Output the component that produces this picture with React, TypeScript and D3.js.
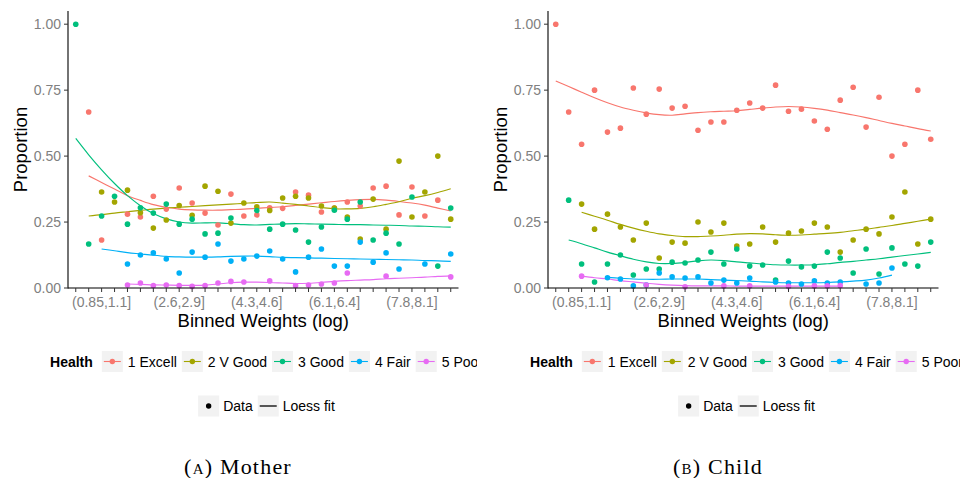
import React from "react";
import * as d3 from "d3";

const N = null;

const categories = [
  "(0.27,0.56]", "(0.56,0.85]", "(0.85,1.1]", "(1.1,1.4]", "(1.4,1.7]", "(1.7,2]",
  "(2,2.3]", "(2.3,2.6]", "(2.6,2.9]", "(2.9,3.2]", "(3.2,3.5]", "(3.5,3.8]",
  "(3.8,4]", "(4,4.3]", "(4.3,4.6]", "(4.6,4.9]", "(4.9,5.2]", "(5.2,5.5]",
  "(5.5,5.8]", "(5.8,6.1]", "(6.1,6.4]", "(6.4,6.7]", "(6.7,7]", "(7,7.2]",
  "(7.2,7.5]", "(7.5,7.8]", "(7.8,8.1]", "(8.1,8.4]", "(8.4,8.7]", "(8.7,9]",
];
const labelledCategories = ["(0.85,1.1]", "(2.6,2.9]", "(4.3,4.6]", "(6.1,6.4]", "(7.8,8.1]"];
const healthLevels = ["1 Excell", "2 V Good", "3 Good", "4 Fair", "5 Poor"];
const healthColors = ["#F8766D", "#A3A500", "#00BF7D", "#00B0F6", "#E76BF3"];
const yTicks = [0, 0.25, 0.5, 0.75, 1];
const yTickLabels = ["0.00", "0.25", "0.50", "0.75", "1.00"];

// Mother: observed proportions per bin
const motherExcell = [N, 0.667, 0.182, N, 0.280, 0.269, 0.348, 0.299, 0.379, 0.322, 0.284, 0.239, 0.356, 0.273, 0.277, 0.304, 0.302, 0.364, 0.352, 0.288, 0.303, 0.326, 0.311, 0.379, 0.386, 0.277, 0.383, 0.273, 0.333, N];
const motherVGood = [N, N, 0.364, 0.326, 0.371, 0.285, 0.227, 0.258, 0.313, 0.276, 0.386, 0.367, 0.246, 0.322, 0.308, 0.294, 0.341, 0.348, 0.341, 0.311, 0.303, 0.269, 0.186, 0.337, 0.223, 0.481, 0.269, 0.364, 0.500, 0.261];
const motherGood = [1.0, 0.167, 0.273, 0.348, 0.242, 0.304, 0.284, 0.318, 0.242, 0.261, 0.205, 0.208, 0.265, N, 0.294, 0.223, 0.242, 0.220, 0.174, 0.231, 0.295, 0.261, 0.326, 0.182, 0.208, 0.167, 0.345, N, 0.083, 0.303];
const motherFair = [N, N, N, N, 0.091, 0.125, 0.133, 0.110, 0.057, 0.136, 0.117, 0.167, 0.102, 0.110, 0.121, 0.140, 0.110, 0.061, 0.117, 0.148, 0.083, 0.083, 0.174, 0.098, 0.133, 0.072, N, 0.091, N, 0.129];
const motherPoor = [N, N, N, N, 0.011, 0.019, 0.009, 0.011, 0.009, 0.006, 0.009, 0.019, 0.025, 0.023, N, 0.027, N, 0.009, 0.011, 0.015, 0.019, 0.057, N, N, 0.045, N, N, N, N, 0.042];

// Mother: loess fit
const motherFitExcell = [N, 0.425, 0.400, 0.375, 0.350, 0.332, 0.316, 0.306, 0.299, 0.296, 0.295, 0.295, 0.297, 0.299, 0.302, 0.305, 0.308, 0.313, 0.318, 0.323, 0.328, 0.332, 0.335, 0.336, 0.333, 0.328, 0.322, 0.314, 0.303, 0.292];
const motherFitVGood = [N, 0.273, 0.278, 0.284, 0.289, 0.294, 0.299, 0.303, 0.306, 0.309, 0.312, 0.315, 0.318, 0.321, 0.324, 0.326, 0.322, 0.317, 0.311, 0.305, 0.300, 0.300, 0.302, 0.308, 0.317, 0.327, 0.340, 0.350, 0.362, 0.376];
const motherFitGood = [0.567, 0.505, 0.448, 0.396, 0.350, 0.312, 0.282, 0.262, 0.250, 0.246, 0.247, 0.247, 0.244, 0.240, 0.239, 0.241, 0.243, 0.244, 0.243, 0.242, 0.241, 0.240, 0.240, 0.239, 0.238, 0.237, 0.235, 0.234, 0.232, 0.231];
const motherFitFair = [N, N, 0.148, 0.141, 0.134, 0.129, 0.124, 0.120, 0.118, 0.117, 0.117, 0.118, 0.120, 0.121, 0.121, 0.119, 0.116, 0.115, 0.114, 0.113, 0.112, 0.111, 0.110, 0.109, 0.108, 0.107, 0.106, 0.104, 0.103, 0.101];
const motherFitPoor = [N, N, N, N, 0.015, 0.014, 0.012, 0.011, 0.010, 0.010, 0.011, 0.015, 0.020, 0.022, 0.022, 0.021, 0.019, 0.017, 0.018, 0.021, 0.025, 0.028, 0.030, 0.032, 0.035, 0.037, 0.039, 0.041, 0.044, 0.046];

// Child: observed proportions per bin
const childExcell = [1.0, 0.667, 0.545, 0.750, 0.591, 0.606, 0.758, 0.659, 0.754, 0.682, 0.689, 0.598, 0.629, 0.629, 0.674, 0.701, 0.682, 0.769, 0.670, 0.678, 0.633, 0.602, 0.712, 0.761, 0.610, 0.723, 0.500, 0.545, 0.750, 0.564];
const childVGood = [N, N, 0.318, 0.223, 0.280, 0.231, 0.182, 0.246, 0.114, 0.174, 0.170, 0.250, 0.212, 0.246, 0.159, 0.167, 0.231, 0.174, 0.208, 0.216, 0.246, 0.231, 0.136, 0.182, 0.223, 0.205, 0.269, 0.364, 0.167, 0.261];
const childGood = [N, 0.333, 0.091, 0.023, 0.091, 0.125, 0.049, 0.072, 0.072, 0.098, 0.095, 0.106, 0.136, 0.091, 0.148, 0.083, 0.087, 0.030, 0.102, 0.080, 0.083, 0.136, 0.114, 0.057, 0.148, 0.053, 0.152, 0.091, 0.083, 0.174];
const childFair = [N, N, N, N, 0.039, 0.034, 0.008, 0.011, 0.057, 0.042, 0.038, 0.042, 0.019, 0.030, 0.019, 0.038, N, 0.023, 0.019, 0.015, 0.027, 0.019, 0.023, N, 0.015, 0.019, 0.076, N, N, N];
const childPoor = [N, N, 0.045, N, N, N, N, 0.011, N, N, 0.005, N, N, 0.008, N, 0.008, N, N, 0.006, N, 0.008, 0.008, 0.009, N, N, N, N, N, N, N];

// Child: loess fit
const childFitExcell = [0.785, 0.764, 0.742, 0.721, 0.702, 0.686, 0.674, 0.664, 0.657, 0.655, 0.660, 0.665, 0.668, 0.670, 0.672, 0.677, 0.682, 0.686, 0.688, 0.686, 0.681, 0.674, 0.665, 0.656, 0.646, 0.635, 0.624, 0.614, 0.604, 0.595];
const childFitVGood = [N, N, 0.287, 0.272, 0.257, 0.241, 0.227, 0.215, 0.205, 0.199, 0.195, 0.195, 0.197, 0.200, 0.204, 0.206, 0.205, 0.202, 0.200, 0.201, 0.204, 0.207, 0.211, 0.217, 0.223, 0.230, 0.237, 0.245, 0.253, 0.261];
const childFitGood = [N, 0.182, 0.168, 0.152, 0.136, 0.122, 0.109, 0.099, 0.093, 0.093, 0.097, 0.103, 0.106, 0.104, 0.099, 0.095, 0.091, 0.088, 0.087, 0.087, 0.088, 0.092, 0.097, 0.101, 0.106, 0.111, 0.117, 0.123, 0.129, 0.135];
const childFitFair = [N, N, N, N, 0.040, 0.037, 0.034, 0.033, 0.033, 0.034, 0.034, 0.034, 0.032, 0.030, 0.028, 0.026, 0.023, 0.021, 0.020, 0.020, 0.020, 0.021, 0.023, 0.026, 0.030, 0.038, 0.049, N, N, N];
const childFitPoor = [N, N, 0.045, 0.039, 0.034, 0.028, 0.023, 0.018, 0.014, 0.011, 0.009, 0.008, 0.008, 0.008, 0.007, 0.007, 0.007, 0.007, 0.007, 0.007, 0.007, 0.007, 0.007, N, N, N, N, N, N, N];

const dataLegend = ["Data", "Loess fit"];

const SANS = "'Liberation Sans', Arial, Helvetica, sans-serif";
const SERIF = "'Liberation Serif', 'Times New Roman', serif";

let _ctx: CanvasRenderingContext2D | null = null;
function measure(text: string, font: string): number {
  if (!_ctx) {
    const c = document.createElement("canvas");
    _ctx = c.getContext("2d");
  }
  if (!_ctx) return text.length * 7;
  _ctx.font = font;
  return _ctx.measureText(text).width;
}

type PanelProps = {
  dx: number;
  width: number;
  series: (number | null)[][];
  fits: (number | null)[][];
  captionTag: string;
  captionText: string;
  clipId: string;
};

function Panel({ dx, width, series, fits, captionTag, captionText, clipId }: PanelProps) {
  const left = 68;
  const right = 458.5;
  const top = 11;
  const bottom = 288;
  const x = d3.scalePoint<string>().domain(categories).range([left, right]).padding(0.6);
  const y = d3.scaleLinear().domain([0, 1.05]).range([bottom, top]);
  const line = d3
    .line<number | null>()
    .defined((d) => d != null)
    .x((_, i) => x(categories[i]) as number)
    .y((d) => y(d as number))
    .curve(d3.curveCatmullRom.alpha(0.5));

  const legendFont = `14px ${SANS}`;
  const titleFont = `bold 14px ${SANS}`;
  const legendCx = 266.5;
  const keyW = 21;

  const titleW = measure("Health", titleFont);
  const itemWs = healthLevels.map((h) => measure(h, legendFont));
  const total1 = titleW + 9 + itemWs.reduce((a, w) => a + keyW + 5 + w, 0) + 5 * (healthLevels.length - 1);
  let cur = legendCx - total1 / 2;
  const titleX = cur;
  cur += titleW + 9;
  const items1 = healthLevels.map((h, i) => {
    const kx = cur;
    cur += keyW + 5 + itemWs[i] + 5;
    return { h, i, kx };
  });

  const dWs = dataLegend.map((t) => measure(t, legendFont));
  const total2 = dWs.reduce((a, w) => a + keyW + 4 + w, 0) + 5;
  let cur2 = legendCx - total2 / 2;
  const items2 = dataLegend.map((t, i) => {
    const kx = cur2;
    cur2 += keyW + 4 + dWs[i] + 5;
    return { t, i, kx };
  });

  const ly1 = 361.5;
  const ly2 = 406;

  return (
    <g>
      <defs>
        <clipPath id={clipId}>
          <rect x={dx} y={0} width={width} height={478} />
        </clipPath>
      </defs>
      <g clipPath={`url(#${clipId})`}>
        <g transform={`translate(${dx},0)`}>
          {fits.map((f, gi) => (
            <path key={`f${gi}`} d={line(f) || ""} fill="none" stroke={healthColors[gi]} strokeWidth={1.15} />
          ))}
          {series.map((s, gi) =>
            s.map((v, i) =>
              v == null ? null : (
                <circle key={`p${gi}-${i}`} cx={x(categories[i])} cy={y(v)} r={2.8} fill={healthColors[gi]} />
              )
            )
          )}
          <line x1={left} x2={left} y1={top} y2={bottom + 0.5} stroke="#000" strokeWidth={1.1} />
          <line x1={left} x2={right} y1={bottom} y2={bottom} stroke="#000" strokeWidth={1.1} />
          {yTicks.map((t, i) => (
            <g key={`yt${i}`}>
              <line x1={left - 4} x2={left} y1={y(t)} y2={y(t)} stroke="#333" strokeWidth={1} />
              <text x={left - 7} y={y(t)} dy="0.36em" textAnchor="end" fontFamily={SANS} fontSize={14} fill="#808080">
                {yTickLabels[i]}
              </text>
            </g>
          ))}
          {categories.map((c) => (
            <line key={`xt${c}`} x1={x(c)} x2={x(c)} y1={bottom} y2={bottom + 4} stroke="#333" strokeWidth={1} />
          ))}
          {labelledCategories.map((c) => (
            <text key={`xl${c}`} x={x(c)} y={307} textAnchor="middle" fontFamily={SANS} fontSize={14} fill="#808080">
              {c}
            </text>
          ))}
          <text x={(left + right) / 2} y={327} textAnchor="middle" fontFamily={SANS} fontSize={18.5} fill="#000">
            Binned Weights (log)
          </text>
          <text
            transform={`translate(27,${(top + bottom) / 2}) rotate(-90)`}
            textAnchor="middle"
            fontFamily={SANS}
            fontSize={18.5}
            fill="#000"
          >
            Proportion
          </text>

          <text x={titleX} y={ly1} dy="0.36em" fontFamily={SANS} fontSize={14} fontWeight="bold" fill="#000">
            Health
          </text>
          {items1.map(({ h, i, kx }) => (
            <g key={`l1${i}`}>
              <rect x={kx} y={ly1 - 10.5} width={keyW} height={21} fill="#F2F2F2" />
              <line x1={kx + 2} x2={kx + keyW - 2} y1={ly1} y2={ly1} stroke={healthColors[i]} strokeWidth={1.1} />
              <circle cx={kx + keyW / 2} cy={ly1} r={2.7} fill={healthColors[i]} />
              <text x={kx + keyW + 5} y={ly1} dy="0.36em" fontFamily={SANS} fontSize={14} fill="#000">
                {h}
              </text>
            </g>
          ))}

          {items2.map(({ t, i, kx }) => (
            <g key={`l2${i}`}>
              <rect x={kx} y={ly2 - 10.5} width={keyW} height={21} fill="#F2F2F2" />
              {i === 0 ? (
                <circle cx={kx + keyW / 2} cy={ly2} r={2.7} fill="#000" />
              ) : (
                <line x1={kx + 2} x2={kx + keyW - 2} y1={ly2} y2={ly2} stroke="#000" strokeWidth={1.3} />
              )}
              <text x={kx + keyW + 4} y={ly2} dy="0.36em" fontFamily={SANS} fontSize={14} fill="#000">
                {t}
              </text>
            </g>
          ))}

          <text x={238} y={474} textAnchor="middle" fontFamily={SERIF} fontSize={22} letterSpacing={1.2} fill="#000">
            <tspan style={{ fontVariant: "small-caps" }}>{captionTag}</tspan>
            <tspan>{" " + captionText}</tspan>
          </text>
        </g>
      </g>
    </g>
  );
}

export default function App() {
  const motherSeries = [motherExcell, motherVGood, motherGood, motherFair, motherPoor];
  const motherFits = [motherFitExcell, motherFitVGood, motherFitGood, motherFitFair, motherFitPoor];
  const childSeries = [childExcell, childVGood, childGood, childFair, childPoor];
  const childFits = [childFitExcell, childFitVGood, childFitGood, childFitFair, childFitPoor];
  return (
    <svg
      width={960}
      height={478}
      style={{ position: "absolute", left: 0, top: 0, background: "#fff" }}
      xmlns="http://www.w3.org/2000/svg"
    >
      <rect x={0} y={0} width={960} height={478} fill="#fff" />
      <Panel dx={0} width={477} series={motherSeries} fits={motherFits} captionTag="(a)" captionText="Mother" clipId="clipM" />
      <Panel dx={480} width={480} series={childSeries} fits={childFits} captionTag="(b)" captionText="Child" clipId="clipC" />
    </svg>
  );
}
